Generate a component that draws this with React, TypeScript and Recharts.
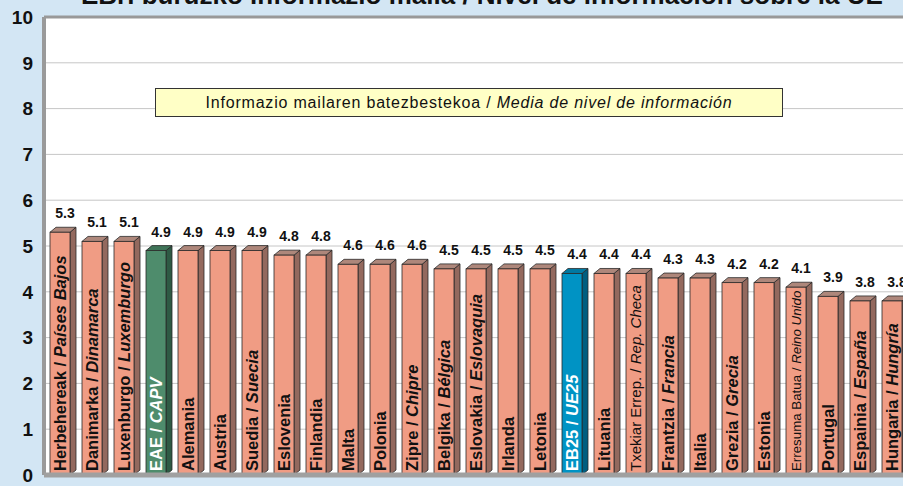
import { BarChart, Bar, XAxis, YAxis, CartesianGrid, LabelList, ReferenceLine } from "recharts"

const namesEu = [
  "Herbehereak", "Danimarka", "Luxenburgo", "EAE", "Alemania", "Austria", "Suedia",
  "Eslovenia", "Finlandia", "Malta", "Polonia", "Zipre", "Belgika", "Eslovakia",
  "Irlanda", "Letonia", "EB25", "Lituania", "Txekiar Errep.", "Frantzia", "Italia",
  "Grezia", "Estonia", "Erresuma Batua", "Portugal", "Espainia", "Hungaria",
]
const namesEs = [
  "Países Bajos", "Dinamarca", "Luxemburgo", "CAPV", "", "", "Suecia",
  "", "", "", "", "Chipre", "Bélgica", "Eslovaquia",
  "", "", "UE25", "", "Rep. Checa", "Francia", "",
  "Grecia", "", "Reino Unido", "", "España", "Hungría",
]
const values = [
  5.3, 5.1, 5.1, 4.9, 4.9, 4.9, 4.9,
  4.8, 4.8, 4.6, 4.6, 4.6, 4.5, 4.5,
  4.5, 4.5, 4.4, 4.4, 4.4, 4.3, 4.3,
  4.2, 4.2, 4.1, 3.9, 3.8, 3.8,
]
const yTicks = [0, 1, 2, 3, 4, 5, 6, 7, 8, 9, 10]

const data = namesEu.map((eu, i) => ({ eu, es: namesEs[i], value: values[i] }))

const FONT = "'Liberation Sans', Arial, sans-serif"

const palette: Record<string, { front: string; side: string; top: string; text: string }> = {
  normal: { front: "#F09C84", side: "#93695E", top: "#AE877B", text: "#111" },
  EAE: { front: "#4E8C6C", side: "#2E5A44", top: "#3F7458", text: "#fff" },
  EB25: { front: "#0093C4", side: "#005E80", top: "#0079A2", text: "#fff" },
}
const smallLabels: Record<string, number> = { "Txekiar Errep.": 15, "Erresuma Batua": 13.3 }

function Bar3D(props: any) {
  const { x, y, width, height, payload } = props
  const c = palette[payload.eu] ?? palette.normal
  const d = 6
  const dy = 5
  return (
    <g stroke="#2a2a2a" strokeWidth={0.8}>
      <polygon
        points={`${x + width},${y} ${x + width + d},${y - dy} ${x + width + d},${y + height - dy} ${x + width},${y + height}`}
        fill={c.side}
      />
      <polygon points={`${x},${y} ${x + d},${y - dy} ${x + width + d},${y - dy} ${x + width},${y}`} fill={c.top} />
      <rect x={x} y={y} width={width} height={height} fill={c.front} />
    </g>
  )
}

function NameLabel(props: any) {
  const vb = props.viewBox ?? props
  const { x, y, width, height } = vb
  const i = namesEu.indexOf(props.value)
  const eu = namesEu[i]
  const es = namesEs[i]
  const c = palette[eu] ?? palette.normal
  const size = smallLabels[eu] ?? 16.5
  const cx = x + width / 2
  const by = y + height - 4
  return (
    <text
      transform={`rotate(-90 ${cx} ${by})`}
      x={cx}
      y={by}
      dy="0.36em"
      fontSize={size}
      fontWeight={smallLabels[eu] ? "normal" : "bold"}
      fontFamily={FONT}
      fill={c.text}
    >
      <tspan>{eu}</tspan>
      {es ? <tspan> / </tspan> : null}
      {es ? <tspan fontStyle="italic">{es}</tspan> : null}
    </text>
  )
}

function ValueLabel(props: any) {
  const vb = props.viewBox ?? props
  const { x, y, width } = vb
  return (
    <text x={x + width / 2 + 5} y={y - 14} textAnchor="middle" fontSize={14} fontWeight="bold" fontFamily={FONT} fill="#111">
      {Number(props.value).toFixed(1)}
    </text>
  )
}

export default function App() {
  return (
    <div style={{ position: "absolute", left: 0, top: 0, width: 903, height: 486, overflow: "hidden", background: "#D3E6F4" }}>
      <svg width={903} height={20} style={{ position: "absolute", left: 0, top: 0 }}>
        <text x={81} y={4} fontSize={26} fontWeight="bold" fontFamily={FONT} fill="#111">
          EBri buruzko informazio maila / Nivel de información sobre la UE
        </text>
      </svg>
      <div style={{ position: "absolute", left: 0, top: 0 }}>
        <BarChart width={912} height={486} data={data} margin={{ top: 17, right: 4, bottom: 0, left: 0 }} barSize={20}>
          <CartesianGrid vertical={false} stroke="#c6c6c6" fill="#fff" />
          <YAxis
            domain={[0, 10]}
            ticks={yTicks}
            width={44}
            tickLine={false}
            tickSize={9}
            tickMargin={2}
            axisLine={{ stroke: "#9a9a9a", strokeWidth: 4 }}
            tick={{ fill: "#111", fontSize: 19, fontWeight: "bold", fontFamily: FONT }}
          />
          <XAxis dataKey="eu" height={11} tick={false} tickLine={false} axisLine={{ stroke: "#a0a0a0", strokeWidth: 5 }} />
          <ReferenceLine y={10} stroke="#999" strokeWidth={3} />
          <Bar dataKey="value" shape={<Bar3D />} isAnimationActive={false}>
            <LabelList dataKey="value" content={<ValueLabel />} />
            <LabelList dataKey="eu" content={<NameLabel />} />
          </Bar>
        </BarChart>
      </div>
      <div
        style={{
          position: "absolute",
          left: 155,
          top: 88,
          width: 626,
          height: 27,
          background: "#FFFFC6",
          border: "1px solid #333",
          fontFamily: FONT,
          fontSize: 16,
          letterSpacing: 0.8,
          lineHeight: "27px",
          textAlign: "center",
          color: "#111",
        }}
      >
        Informazio mailaren batezbestekoa / <i>Media de nivel de información</i>
      </div>
    </div>
  )
}
